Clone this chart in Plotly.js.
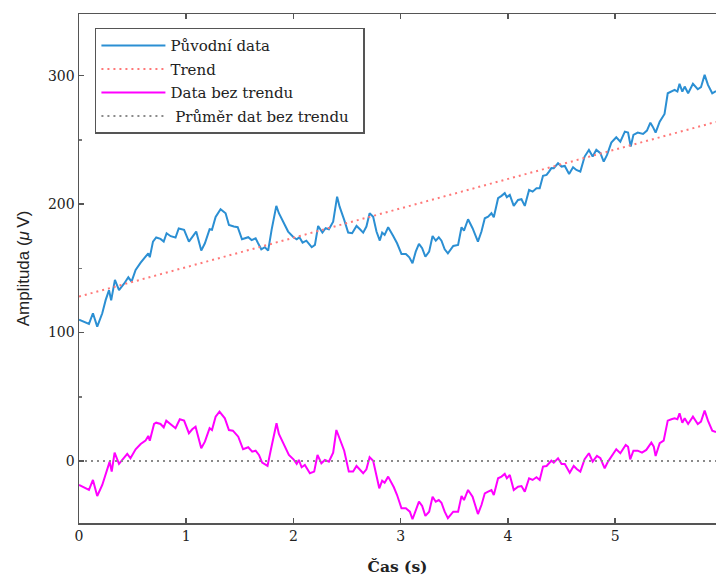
<!DOCTYPE html>
<html>
<head>
<meta charset="utf-8">
<script src="https://cdn.plot.ly/plotly-3.0.1.min.js"></script>
<style>html,body{margin:0;padding:0;background:#fff;}#chart{width:716px;height:581px;}</style>
</head>
<body>
<div id="chart"></div>
<script>
// Original data (time in s, amplitude in µV)
var origTime = [
  0, 0.047, 0.093, 0.13, 0.17, 0.217, 0.249, 0.28, 0.30, 0.335,
  0.373, 0.42, 0.46, 0.49, 0.528, 0.575, 0.62, 0.646, 0.66, 0.69,
  0.72, 0.76, 0.79, 0.817, 0.855, 0.90, 0.93, 0.98, 1.025, 1.056,
  1.093, 1.14, 1.174, 1.218, 1.24, 1.274, 1.32, 1.367, 1.398, 1.444,
  1.48, 1.52, 1.578, 1.61, 1.647, 1.67, 1.70, 1.733, 1.764, 1.796,
  1.84, 1.864, 1.904, 1.95, 2.0, 2.03, 2.055, 2.085, 2.12, 2.17,
  2.2, 2.23, 2.27, 2.30, 2.33, 2.37, 2.407, 2.43, 2.473, 2.51,
  2.547, 2.588, 2.62, 2.65, 2.68, 2.71, 2.743, 2.774, 2.805, 2.827,
  2.85, 2.883, 2.93, 2.966, 3.007, 3.048, 3.08, 3.11, 3.14, 3.17,
  3.20, 3.23, 3.265, 3.297, 3.327, 3.355, 3.38, 3.41, 3.44, 3.49,
  3.535, 3.567, 3.59, 3.628, 3.67, 3.72, 3.753, 3.784, 3.815, 3.846,
  3.868, 3.908, 3.94, 3.97, 3.99, 4.017, 4.054, 4.094, 4.126, 4.157,
  4.197, 4.23, 4.266, 4.296, 4.327, 4.36, 4.383, 4.405, 4.427, 4.467,
  4.5, 4.53, 4.57, 4.607, 4.638, 4.675, 4.715, 4.755, 4.79, 4.824,
  4.862, 4.893, 4.924, 4.964, 5.01, 5.048, 5.09, 5.12, 5.145, 5.17,
  5.21, 5.26, 5.296, 5.328, 5.35, 5.377, 5.415, 5.46, 5.49, 5.524,
  5.554, 5.58, 5.6, 5.626, 5.648, 5.68, 5.725, 5.77, 5.80, 5.834,
  5.865, 5.905, 5.94
];
var origValues = [
  110, 108.5, 106.7, 115, 104.6, 115, 125.4, 133, 125, 141,
  133, 138, 143, 139.6, 148.7, 154.4, 158.6, 161.7, 158.6, 170.8,
  174, 172.9, 170.8, 177.3, 175, 174, 181, 180, 170.8, 174.7,
  178.6, 163.8, 169.5, 180.4, 180, 190, 196, 192.9, 183.8, 182.5,
  182, 172.6, 174.2, 172, 173.4, 169.5, 164.8, 166.4, 163.8, 179.9,
  198.6, 192.9, 185.6, 178.6, 174.2, 172.6, 174.2, 170, 171.5, 166.4,
  168.2, 183, 177.8, 181.2, 180.4, 186.3, 205.8, 198, 187.7, 177.8,
  177.3, 183, 180.4, 177.8, 182.5, 192.9, 190.2, 178.6, 171.6, 177.8,
  176, 182, 175.2, 169.5, 161.2, 161.2, 158.6, 154, 163, 169,
  165.6, 159, 163, 175.2, 171.5, 174.2, 171.5, 164.8, 161.7, 167.4,
  168.2, 182, 179.3, 188.2, 181.2, 170.8, 178.6, 189, 190.2, 192.9,
  189.8, 204.6, 206.4, 208.5, 205.4, 207.1, 198.6, 203.2, 203.8, 198.6,
  211, 209.7, 212.4, 212.4, 222, 222.7, 225.3, 228, 227.9, 231.8,
  229.2, 229.7, 223.5, 228.7, 226.6, 225.3, 237, 242.2, 237, 242.2,
  239.6, 233.1, 238.3, 247.9, 252, 248.6, 256.4, 255.7, 244.8, 253.9,
  255.7, 254.6, 257.2, 263.4, 260.3, 255.7, 264.2, 270.2, 286.3, 287.6,
  288.9, 287.6, 293.6, 287.6, 291.5, 286.3, 293.6, 289.4, 291, 300.6,
  292.8, 286.3, 288
];

// Linear trend (end points)
var trendTime = [0, 5.94];
var trendValues = [128, 264];

// Detrended data
var detTime = [
  0, 0.047, 0.093, 0.13, 0.17, 0.217, 0.264, 0.286, 0.305, 0.332,
  0.373, 0.41, 0.45, 0.48, 0.528, 0.575, 0.62, 0.646, 0.66, 0.70,
  0.72, 0.76, 0.79, 0.814, 0.855, 0.90, 0.94, 0.98, 1.025, 1.056,
  1.087, 1.14, 1.174, 1.218, 1.24, 1.274, 1.31, 1.36, 1.398, 1.435,
  1.485, 1.53, 1.578, 1.615, 1.647, 1.678, 1.708, 1.733, 1.758, 1.79,
  1.842, 1.864, 1.904, 1.957, 2.0, 2.03, 2.05, 2.076, 2.106, 2.153,
  2.193, 2.224, 2.26, 2.293, 2.33, 2.37, 2.40, 2.43, 2.473, 2.516,
  2.556, 2.588, 2.62, 2.65, 2.68, 2.71, 2.743, 2.774, 2.8, 2.827,
  2.85, 2.883, 2.936, 2.966, 3.007, 3.048, 3.085, 3.11, 3.14, 3.17,
  3.20, 3.23, 3.265, 3.297, 3.327, 3.355, 3.38, 3.41, 3.44, 3.49,
  3.535, 3.567, 3.59, 3.628, 3.67, 3.72, 3.753, 3.784, 3.815, 3.846,
  3.868, 3.908, 3.94, 3.97, 3.99, 4.017, 4.054, 4.094, 4.126, 4.157,
  4.197, 4.23, 4.266, 4.296, 4.327, 4.36, 4.383, 4.405, 4.427, 4.467,
  4.5, 4.53, 4.576, 4.613, 4.644, 4.675, 4.715, 4.755, 4.79, 4.83,
  4.862, 4.902, 4.933, 4.98, 5.01, 5.048, 5.098, 5.12, 5.14, 5.17,
  5.21, 5.25, 5.29, 5.337, 5.36, 5.377, 5.415, 5.452, 5.49, 5.524,
  5.554, 5.58, 5.6, 5.626, 5.648, 5.68, 5.725, 5.77, 5.80, 5.834,
  5.865, 5.905, 5.94
];
var detValues = [
  -18.7, -20.5, -22.6, -14.8, -27.3, -18.7, -5.7, -0.5, -8.3, 6.5,
  -2.3, 1.3, 5.5, 2.1, 9.1, 13.2, 15.8, 19.5, 15.8, 28.8,
  29.8, 28.8, 26.2, 31.4, 28.8, 25.5, 32.5, 31.4, 21.6, 24.7,
  26.7, 9.9, 15, 25.5, 24.1, 34.5, 38.4, 33.2, 24.1, 23.6,
  18.9, 9.1, 10.7, 7.2, 8, 4.7, -1.3, -2.3, -3.9, 9.1,
  29.4, 21, 13.8, 4.7, 1.3, -2.3, 0.8, -4.9, -3.1, -9.6,
  -8.3, 4.7, -1.8, 0.8, -0.5, 6.5, 24.1, 17.7, 8, -8.3,
  -8.3, -3.9, -6.5, -9.6, -6.5, 2.9, 0.2, -10.9, -21.3, -15.3,
  -16.9, -12.2, -20.5, -26.5, -36.8, -36.8, -39.5, -45.4, -38.2, -31.7,
  -35, -42.8, -39.5, -27.8, -31.7, -30.4, -32.5, -39.5, -44.6, -39.5,
  -39.5, -27.3, -30.4, -22.6, -27.8, -41.3, -34.3, -25.2, -23.9, -22.6,
  -26.5, -13.5, -12.2, -10.1, -13.5, -10.9, -22.6, -20, -19.5, -23.9,
  -13.5, -14.8, -12.7, -14.8, -4.4, -3.9, -1.8, 0.2, -1.3, 2.1,
  -2.3, -2.3, -9.1, -3.9, -6.5, -8.3, 1.3, 6, -0.5, 3.9,
  2.1, -5.7, -0.5, 6, 9.1, 6, 12.5, 11.1, 1.3, 8,
  8, 6.5, 8.6, 14.3, 11.1, 3.9, 13.8, 15.8, 31.4, 32.5,
  33.2, 32.5, 37.1, 29.8, 33.2, 28.8, 34.5, 28.8, 30.6, 39.2,
  31.4, 23.6, 22.5
];

// Mean of detrended data
var meanTime = [0, 5.94];
var meanValues = [0, 0];

var seriesNames = ['Původní data', 'Trend', 'Data bez trendu', ' Průměr dat bez trendu  '];
var xTickVals = [0, 1, 2, 3, 4, 5];
var yTickVals = [0, 100, 200, 300];

var traces = [
  {x: origTime, y: origValues, type: 'scatter', mode: 'lines', name: seriesNames[0],
   legendgroup: 'a', line: {color: '#2b8fd3', width: 2}},
  {x: trendTime, y: trendValues, type: 'scatter', mode: 'lines', name: seriesNames[1],
   legendgroup: 'b', line: {color: '#ff7878', width: 2, dash: '2px,4px'}},
  {x: detTime, y: detValues, type: 'scatter', mode: 'lines', name: seriesNames[2],
   legendgroup: 'c', line: {color: '#ff00ff', width: 2}},
  {x: meanTime, y: meanValues, type: 'scatter', mode: 'lines', name: seriesNames[3],
   legendgroup: 'd', line: {color: '#8a8a8a', width: 2, dash: '2px,4px'}}
];

var layout = {
  width: 716, height: 581,
  margin: {l: 79, r: 0, t: 14, b: 58},
  paper_bgcolor: '#fff', plot_bgcolor: '#fff',
  showlegend: true,
  legend: {
    x: 0.025, y: 0.973, xanchor: 'left', yanchor: 'top',
    bgcolor: '#fff', bordercolor: '#555', borderwidth: 1.5,
    font: {family: 'DejaVu Serif', size: 15, color: '#222'},
    itemwidth: 64, tracegroupgap: 1, traceorder: 'grouped'
  },
  xaxis: {
    range: [0, 5.94], tickvals: xTickVals, ticktext: xTickVals.map(String),
    ticks: 'inside', ticklen: 5, tickwidth: 1.5, tickcolor: '#555',
    showline: true, linecolor: '#555', linewidth: 1.5, mirror: 'ticks',
    showgrid: false, zeroline: false,
    tickfont: {family: 'DejaVu Serif', size: 14, color: '#222'},
    title: {text: '<b>Čas (s)</b>', font: {family: 'DejaVu Serif', size: 15.5, color: '#222'}, standoff: 18}
  },
  yaxis: {
    range: [-48.3, 348], tickvals: yTickVals, ticktext: yTickVals.map(String),
    ticks: 'inside', ticklen: 5, tickwidth: 1.5, tickcolor: '#555',
    minor: {ticks: 'inside', ticklen: 3, tickcolor: '#777', dtick: 50, tick0: 0},
    showline: true, linecolor: '#555', linewidth: 1.5,
    showgrid: false, zeroline: false,
    tickfont: {family: 'DejaVu Serif', size: 14, color: '#222'},
    title: {text: 'Amplituda (<i>μ</i>\u2009V)', font: {family: 'Liberation Sans, Arial', size: 17, color: '#222'}, standoff: 14}
  }
};

Plotly.newPlot('chart', traces, layout, {staticPlot: true, displayModeBar: false});
</script>
</body>
</html>
